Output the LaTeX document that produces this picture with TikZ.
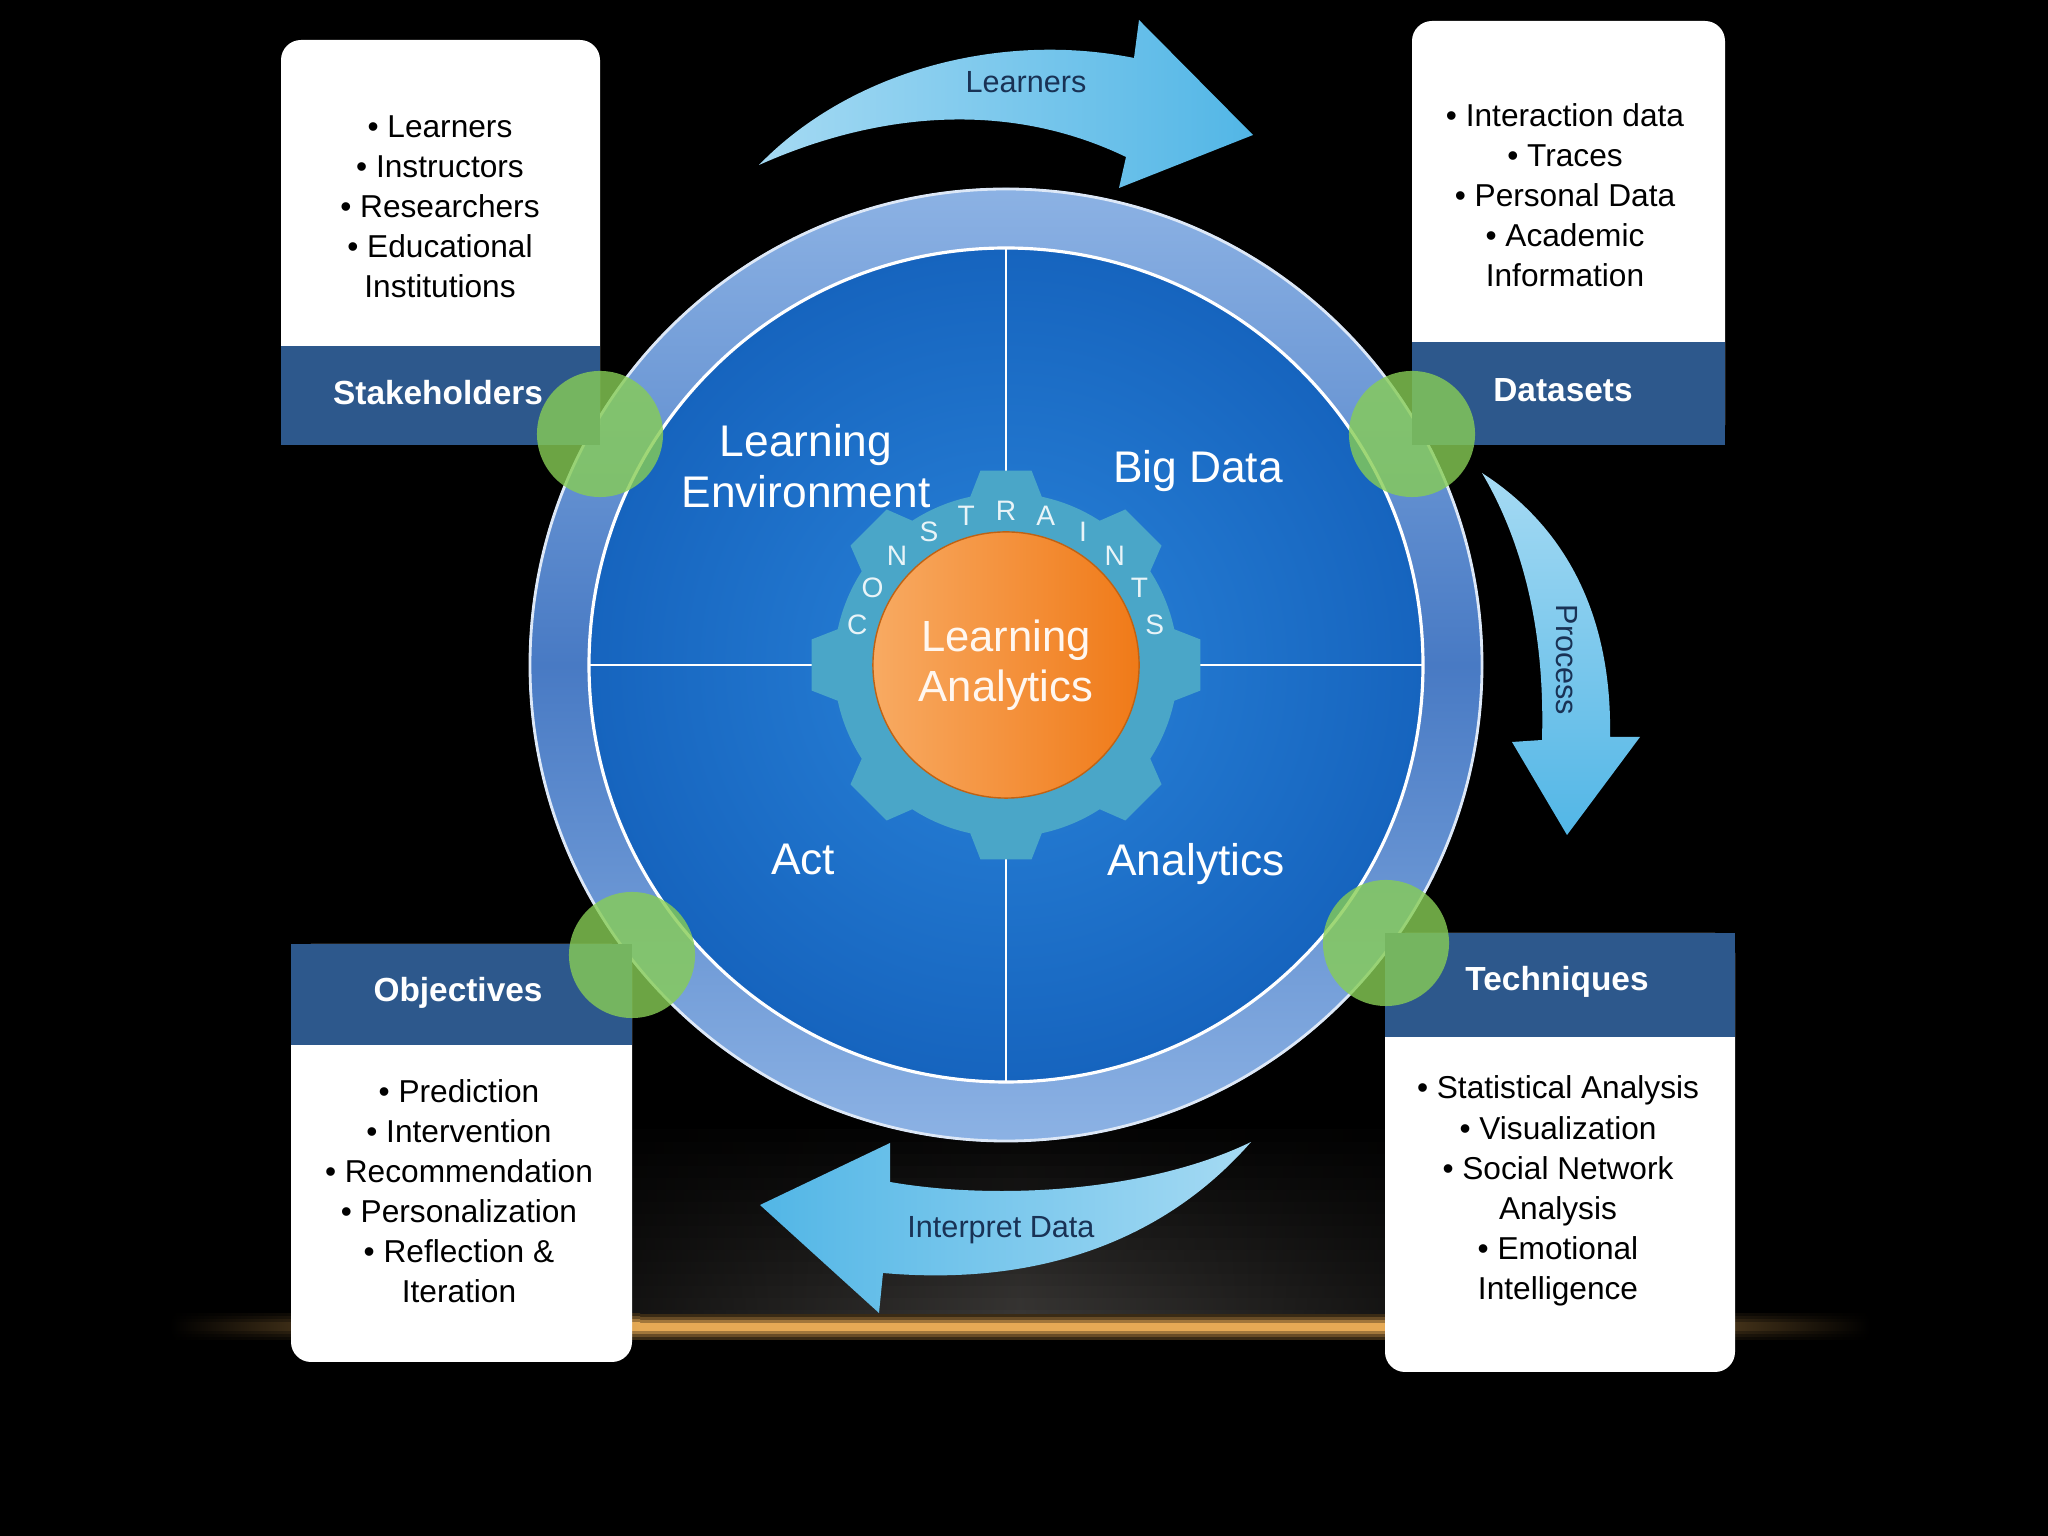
\documentclass[tikz,border=0pt]{standalone}
\usepackage{fontspec}
\setmainfont{Liberation Sans}
\definecolor{headblue}{RGB}{45,88,140}
\definecolor{ringlight}{RGB}{140,178,228}
\definecolor{ringdark}{RGB}{72,122,196}
\definecolor{disklight}{RGB}{42,132,218}
\definecolor{diskdark}{RGB}{22,100,190}
\definecolor{gearblue}{RGB}{74,166,200}
\definecolor{orangelight}{RGB}{248,170,98}
\definecolor{orangedark}{RGB}{240,122,24}
\definecolor{dotgreen}{RGB}{135,205,85}
\definecolor{arrowlight}{RGB}{165,218,243}
\definecolor{arrowdark}{RGB}{82,182,230}
\definecolor{arrowink}{RGB}{25,50,85}
\definecolor{glowline}{RGB}{230,170,85}
\definecolor{glowgray}{RGB}{56,54,52}

\begin{document}
\begin{tikzpicture}[x=0.01cm,y=0.01cm,
  every node/.style={inner sep=0pt},
  listtext/.style={align=center,text=black,font=\fontsize{9}{11.4}\selectfont},
  headtext/.style={text=white,font=\bfseries\fontsize{9.5}{11}\selectfont},
  quadtext/.style={align=center,text=white,font=\fontsize{12.6}{14.5}\selectfont},
  arrowtext/.style={text=arrowink,font=\fontsize{8.7}{10}\selectfont},
  letter/.style={text=white!88!gearblue,font=\fontsize{8}{9}\selectfont},
  greendot/.style={circle,fill=dotgreen,fill opacity=0.8,minimum size=1.26cm},
  coreball/.style={circle,left color=orangelight,right color=orangedark,draw=orangedark!80!black,line width=0.4pt,minimum size=2.66cm,align=center,text=white!94!orange,font=\fontsize{12.4}{14.2}\selectfont}]
      \useasboundingbox (0,0) rectangle (2048,1536);
      \fill[black] (0,0) rectangle (2048,1536);
      \foreach \k in {0,...,15} {
        \pgfmathtruncatemacro\p{100-6*\k}
        \pgfmathtruncatemacro\ya{214+12*\k}
        \pgfmathtruncatemacro\yb{226+12*\k}
        \fill[left color=black, right color=black, middle color=glowgray!\p!black] (420,\ya) rectangle (1620,\yb);
      }
      \foreach \w/\p in {13/25,10/45,7/70,4/100} {
        \pgfmathtruncatemacro\ya{209-\w}
        \pgfmathtruncatemacro\yb{209+\w}
        \fill[left color=black, right color=glowline!\p!black] (170,\ya) rectangle (640,\yb);
        \fill[glowline!\p!black] (640,\ya) rectangle (1400,\yb);
        \fill[left color=glowline!\p!black, right color=black] (1400,\ya) rectangle (1870,\yb);
      }
      \shade[left color=arrowlight, right color=arrowdark] (759,1371) .. controls (850,1465) and (1000,1505) .. (1134,1478) -- (1139,1516) -- (1253,1401) -- (1119,1348) -- (1126,1379) .. controls (1010,1435) and (880,1425) .. cycle;
      \shade[top color=arrowlight, bottom color=arrowdark] (1482,1063) .. controls (1580,1000) and (1612,900) .. (1610,799) -- (1640,799) -- (1567,701) -- (1512,794) -- (1542,796) .. controls (1545,900) and (1525,990) .. cycle;
      \shade[left color=arrowdark, right color=arrowlight] (1251,394) .. controls (1150,345) and (1000,335) .. (890,354) -- (890,393) -- (760,331) -- (879,223) -- (883,263) .. controls (1030,250) and (1160,290) .. cycle;
      \shade[top color=ringlight, bottom color=ringlight, middle color=ringdark] (1006,871) circle (477);
      \draw[white!70!ringlight, line width=0.8pt] (1006,871) circle (476);
      \shade[inner color=disklight, outer color=diskdark] (1006,871) circle (417);
      \draw[white, line width=0.9pt] (1006,871) circle (417);
      \draw[white, line width=0.6pt] (1006,454) -- (1006,1288) (589,871) -- (1423,871);
      \fill[gearblue, shift={(1006,871)}] (-12:172) \foreach \a in {0,45,...,315} {
        -- (\a-12:172) -- (\a-7.5:196) -- (\a+7.5:196) -- (\a+12:172)
        arc[start angle=\a+12, end angle=\a+33, radius=172]
      } -- cycle;
      \path (1006,871) node[coreball] (core) {Learning\\Analytics};
      \foreach \l [count=\i] in {C,O,N,S,T,R,A,I,N,T,S} {
        \path (1006,871) ++({180-15*\i}:154) node[letter] (c\i) {\l};
      }
      \path (806,1070) node[quadtext] (learnenv) {Learning\\Environment};
      \path (1198,1065) node[quadtext] (bigdata) {Big Data};
      \path (803,677) node[quadtext] (act) {Act};
      \path (1196,672) node[quadtext] (analytics) {Analytics};
      \fill[white, rounded corners=0.2cm] (281,1091) rectangle (600,1496);
      \fill[headblue] (281,1091) rectangle (600,1190);
      \fill[white, rounded corners=0.2cm] (1412,1091) rectangle (1725,1515);
      \fill[headblue] (1412,1091) rectangle (1725,1194);
      \fill[white, rounded corners=0.2cm] (291,174) rectangle (632,592);
      \fill[headblue] (291,491) rectangle (632,592);
      \fill[white, rounded corners=0.2cm] (1385,164) rectangle (1735,603);
      \fill[headblue] (1385,499) rectangle (1735,603);
      \path (440,1329) node[listtext] (stakelist) {• Learners\\• Instructors\\• Researchers\\• Educational\\Institutions};
      \path (1565,1341) node[listtext] (datalist) {• Interaction data\\• Traces\\• Personal Data\\• Academic\\Information};
      \path (459,345) node[listtext] (objlist) {• Prediction\\• Intervention\\• Recommendation\\• Personalization\\• Reflection \&\\Iteration};
      \path (1558,345) node[listtext] (techlist) {• Statistical Analysis\\• Visualization\\• Social Network\\Analysis\\• Emotional\\Intelligence};
      \path (438,1143) node[headtext] (stakehead) {Stakeholders};
      \path (1563,1146) node[headtext] (datahead) {Datasets};
      \path (458,543) node[headtext] (objhead) {Objectives};
      \path (1557,554) node[headtext] (techhead) {Techniques};
      \path (600,1102) node[greendot] (stakedot) {};
      \path (1412,1102) node[greendot] (datadot) {};
      \path (632,581) node[greendot] (objdot) {};
      \path (1386,593) node[greendot] (techdot) {};
      \path (1026,1454) node[arrowtext] (learnlbl) {Learners};
      \path (1567,876) node[arrowtext,rotate=-90] (proclbl) {Process};
      \path (1001,306) node[arrowtext] (interlbl) {Interpret Data};
\end{tikzpicture}
\end{document}
